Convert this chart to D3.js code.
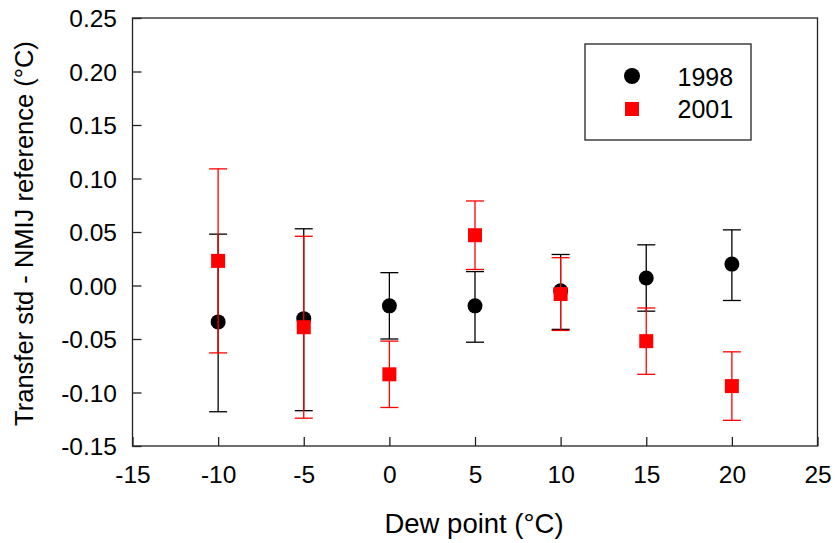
<!DOCTYPE html>
<html>
<head>
<meta charset="utf-8">
<script src="https://cdn.jsdelivr.net/npm/d3@7"></script>
<style>
html,body{margin:0;padding:0;background:#fff;}
text{font-family:Arial,"Liberation Sans",sans-serif;fill:#000;}
</style>
</head>
<body>
<svg id="chart" width="835" height="543"></svg>
<script>
const dewPoint = [-10, -5, 0, 5, 10, 15, 20];
const mean1998 = [-0.034, -0.031, -0.019, -0.019, -0.005, 0.007, 0.020];
const upper1998 = [0.048, 0.053, 0.012, 0.013, 0.029, 0.038, 0.052];
const lower1998 = [-0.118, -0.117, -0.050, -0.053, -0.041, -0.024, -0.014];
const mean2001 = [0.023, -0.039, -0.083, 0.047, -0.008, -0.052, -0.094];
const upper2001 = [0.109, 0.046, -0.052, 0.079, 0.026, -0.021, -0.062];
const lower2001 = [-0.063, -0.124, -0.114, 0.015, -0.042, -0.083, -0.126];
const xTicks = [-15, -10, -5, 0, 5, 10, 15, 20, 25];
const yTicks = [-0.15, -0.10, -0.05, 0.00, 0.05, 0.10, 0.15, 0.20, 0.25];
const seriesNames = ["1998", "2001"];
const xTitle = "Dew point (°C)";
const yTitle = "Transfer std - NMIJ reference (°C)";

const svg = d3.select("#chart");
const L = 132.5, R = 817.5, T = 18, B = 446;
const x = d3.scaleLinear().domain([-15, 25]).range([L, R]);
const y = d3.scaleLinear().domain([-0.15, 0.25]).range([B, T]);
const hy = f => (d => f(d).replace("\u2212", "-"));

// frame
svg.append("rect").attr("x", L).attr("y", T).attr("width", R - L).attr("height", B - T)
  .attr("fill", "none").attr("stroke", "#222").attr("stroke-width", 1.3);

// axes
const xAxis = d3.axisBottom(x).tickValues(xTicks).tickSize(-9).tickPadding(0).tickFormat(hy(d3.format("d")));
const gx = svg.append("g").attr("transform", `translate(0,${B})`).call(xAxis);
gx.select(".domain").remove();
gx.selectAll(".tick line").attr("stroke", "#222").attr("stroke-width", 1.3);
gx.selectAll(".tick text").attr("font-size", 24.5).attr("y", 37).attr("dy", 0)
  .style("font-family", "Arial, 'Liberation Sans', sans-serif").attr("fill", "#000");

const yAxis = d3.axisLeft(y).tickValues(yTicks).tickSize(-9).tickPadding(0).tickFormat(hy(d3.format(".2f")));
const gy = svg.append("g").attr("transform", `translate(${L},0)`).call(yAxis);
gy.select(".domain").remove();
gy.selectAll(".tick line").attr("stroke", "#222").attr("stroke-width", 1.3);
gy.selectAll(".tick text").attr("font-size", 24.5).attr("x", -15.5).attr("dy", "0.36em")
  .style("font-family", "Arial, 'Liberation Sans', sans-serif").attr("fill", "#000");

// titles
svg.append("text").attr("x", 474).attr("y", 533).attr("text-anchor", "middle")
  .attr("font-size", 27.5).text(xTitle);
svg.append("text").attr("transform", "translate(33,233.5) rotate(-90)")
  .attr("text-anchor", "middle").attr("font-size", 25.5).text(yTitle);

// error bars + markers
function drawSeries(means, lows, highs, color, shape) {
  const g = svg.append("g");
  const data = dewPoint.map((d, i) => ({x: d, m: means[i], lo: lows[i], hi: highs[i]}));
  const cap = 9;
  g.selectAll("line.v").data(data).enter().append("line")
    .attr("x1", d => x(d.x)).attr("x2", d => x(d.x))
    .attr("y1", d => y(d.hi)).attr("y2", d => y(d.lo))
    .attr("stroke", color).attr("stroke-width", 1.3);
  g.selectAll("line.t").data(data).enter().append("line")
    .attr("x1", d => x(d.x) - cap).attr("x2", d => x(d.x) + cap)
    .attr("y1", d => y(d.hi)).attr("y2", d => y(d.hi))
    .attr("stroke", color).attr("stroke-width", 1.3);
  g.selectAll("line.b").data(data).enter().append("line")
    .attr("x1", d => x(d.x) - cap).attr("x2", d => x(d.x) + cap)
    .attr("y1", d => y(d.lo)).attr("y2", d => y(d.lo))
    .attr("stroke", color).attr("stroke-width", 1.3);
  if (shape === "circle") {
    g.selectAll("circle").data(data).enter().append("circle")
      .attr("cx", d => x(d.x)).attr("cy", d => y(d.m)).attr("r", 7.5).attr("fill", color);
  } else {
    g.selectAll("rect").data(data).enter().append("rect")
      .attr("x", d => x(d.x) - 7).attr("y", d => y(d.m) - 7)
      .attr("width", 14).attr("height", 14).attr("fill", color);
  }
}
drawSeries(mean1998, lower1998, upper1998, "#000", "circle");
drawSeries(mean2001, lower2001, upper2001, "#ff0000", "square");

// legend
const lg = svg.append("g");
lg.append("rect").attr("x", 585).attr("y", 44).attr("width", 166).attr("height", 96)
  .attr("fill", "#fff").attr("stroke", "#222").attr("stroke-width", 1.3);
lg.append("circle").attr("cx", 632).attr("cy", 76).attr("r", 8).attr("fill", "#000");
lg.append("rect").attr("x", 625).attr("y", 102).attr("width", 14).attr("height", 14).attr("fill", "#ff0000");
lg.append("text").attr("x", 677.5).attr("y", 86).attr("font-size", 25).text(seriesNames[0]);
lg.append("text").attr("x", 677.5).attr("y", 118).attr("font-size", 25).text(seriesNames[1]);
</script>
</body>
</html>
